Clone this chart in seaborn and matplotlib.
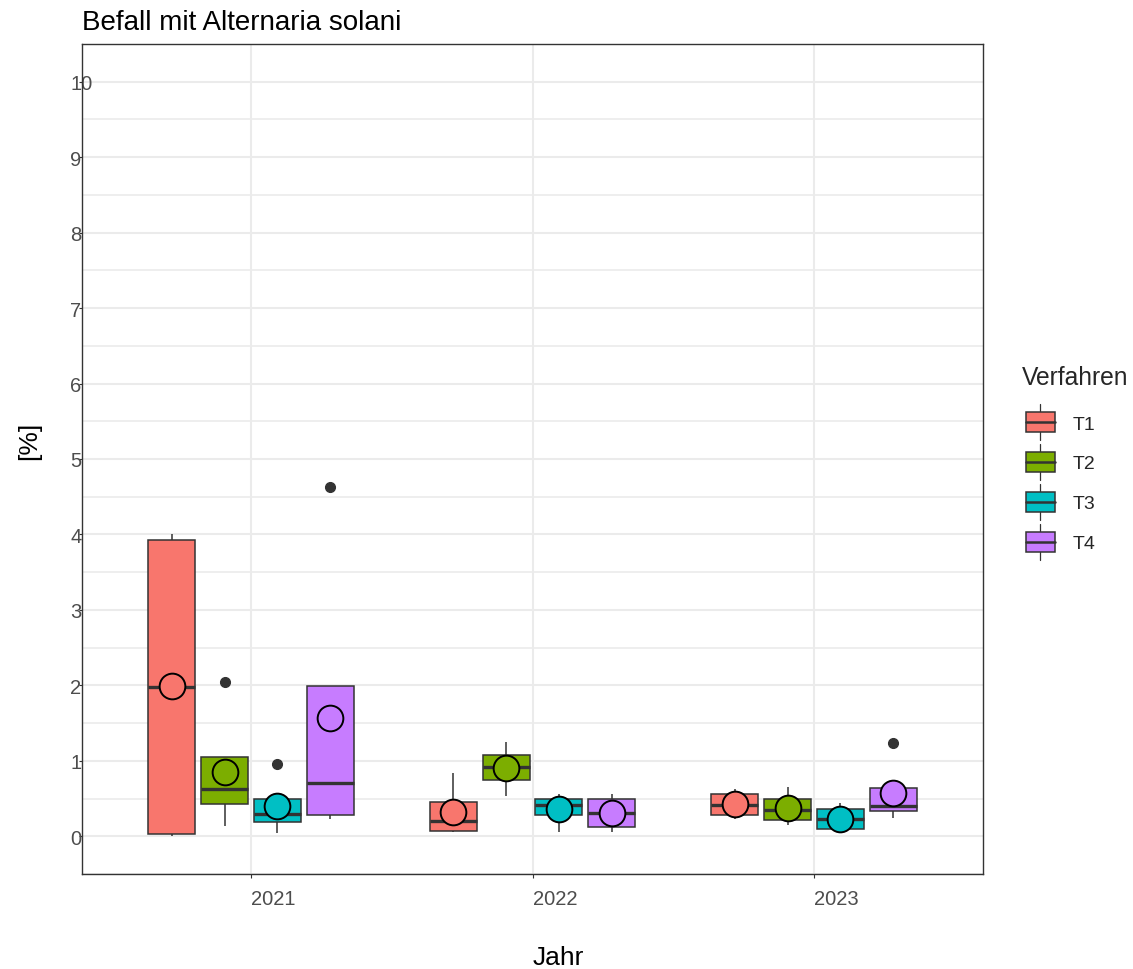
import numpy as np
import pandas as pd
import matplotlib
matplotlib.use("Agg")
import matplotlib.pyplot as plt
from matplotlib.legend_handler import HandlerBase
from matplotlib.patches import Rectangle, Patch
from matplotlib.lines import Line2D
import seaborn as sns

# Befall mit Alternaria solani [%], vier Wiederholungen je Jahr und Verfahren
years = ["2021", "2022", "2023"]
treatments = ["T1", "T2", "T3", "T4"]

t1_values = [[0.00, 0.04, 3.91, 4.00], [0.06, 0.08, 0.32, 0.84], [0.225, 0.30, 0.54, 0.63]]
t2_values = [[0.13, 0.52, 0.72, 2.04], [0.54, 0.81, 1.02, 1.255], [0.15, 0.24, 0.45, 0.65]]
t3_values = [[0.04, 0.24, 0.34, 0.96], [0.06, 0.35, 0.48, 0.56], [0.04, 0.12, 0.33, 0.44]]
t4_values = [[0.23, 0.30, 1.12, 4.63], [0.06, 0.14, 0.47, 0.56], [0.245, 0.36, 0.44, 1.235]]

y_ticks = list(range(0, 11))

colors = ["#F8766D", "#7CAE00", "#00BFC4", "#C77CFF"]
palette = dict(zip(treatments, colors))

rows = []
for trt, per_year in zip(treatments, [t1_values, t2_values, t3_values, t4_values]):
    for year, vals in zip(years, per_year):
        for v in vals:
            rows.append({"Jahr": year, "Verfahren": trt, "Befall": v})
df = pd.DataFrame(rows)

sns.set_theme(style="white")
plt.rcParams["font.family"] = ["Liberation Sans", "DejaVu Sans"]

W, H = 1133, 970
fig = plt.figure(figsize=(W / 100, H / 100), dpi=100)
ax = fig.add_axes([82 / W, 1 - 875 / H, (983 - 82) / W, (875 - 45) / H])

edge = "#333333"
sns.boxplot(
    data=df, x="Jahr", y="Befall", hue="Verfahren",
    order=years, hue_order=treatments, palette=palette,
    width=0.75, gap=0.11, saturation=1, linecolor=edge, linewidth=1.1,
    showcaps=False, fliersize=7,
    medianprops={"linewidth": 2.4, "color": edge},
    flierprops={"marker": "o", "markerfacecolor": edge, "markeredgecolor": edge},
    legend=False, ax=ax,
)

sns.pointplot(
    data=df, x="Jahr", y="Befall", hue="Verfahren",
    order=years, hue_order=treatments, palette=palette,
    estimator="mean", errorbar=None, dodge=0.5625,
    markers="o", linestyle="none", markersize=18.5,
    markeredgecolor="black", markeredgewidth=1.4,
    legend=False, ax=ax,
)
for ln in ax.lines[-len(treatments):]:
    ln.set_zorder(5)

# axes, grid, frame
ax.set_xlim(-0.6, 2.6)
ax.set_ylim(-0.5, 10.5)
ax.set_yticks(y_ticks)
ax.set_yticklabels([str(t) for t in y_ticks])
ax.set_yticks(np.arange(-0.5, 10.51, 0.5), minor=True)
ax.set_axisbelow(True)
ax.grid(which="major", color="#EBEBEB", linewidth=1.5)
ax.grid(which="minor", axis="y", color="#EBEBEB", linewidth=1.2)
for s in ax.spines.values():
    s.set_visible(True)
    s.set_color(edge)
    s.set_linewidth(1.0)

ax.tick_params(axis="y", which="major", length=2.2, width=0.8, color=edge,
               pad=6.4, labelsize=14.5, labelcolor="#4D4D4D", left=True)
ax.tick_params(axis="x", which="major", length=3.2, width=0.8, color=edge,
               pad=7.5, labelsize=14.5, labelcolor="#4D4D4D", bottom=True)
ax.tick_params(which="minor", length=0)
for lab in ax.get_yticklabels():
    lab.set_horizontalalignment("left")
for lab in ax.get_xticklabels():
    lab.set_horizontalalignment("left")

ax.set_xlabel("Jahr", fontsize=19, ha="left", labelpad=27, color="black")
ax.set_ylabel("[%]", fontsize=19, ha="left", labelpad=20.5, color="black")
ax.set_title("Befall mit Alternaria solani", fontsize=20, loc="left", pad=11, color="black")


class BoxKey(HandlerBase):
    def create_artists(self, legend, orig_handle, xdescent, ydescent,
                       width, height, fontsize, trans):
        fc = orig_handle.get_facecolor()
        cx = width / 2 - xdescent
        cy = height / 2 - ydescent
        bw, bh, wl = 21.0, 14.4, 5.8
        box = Rectangle((cx - bw / 2, cy - bh / 2), bw, bh, facecolor=fc,
                        edgecolor=edge, linewidth=1.1, transform=trans)
        med = Line2D([cx - bw / 2, cx + bw / 2], [cy, cy], color=edge,
                     linewidth=1.8, transform=trans)
        top = Line2D([cx, cx], [cy + bh / 2, cy + bh / 2 + wl], color=edge,
                     linewidth=0.9, transform=trans)
        bot = Line2D([cx, cx], [cy - bh / 2, cy - bh / 2 - wl], color=edge,
                     linewidth=0.9, transform=trans)
        return [top, bot, box, med]


handles = [Patch(facecolor=palette[t]) for t in treatments]
leg = ax.legend(
    handles=handles, labels=treatments, handler_map={Patch: BoxKey()},
    title="Verfahren", loc="center left",
    bbox_to_anchor=(1022 / W, 1 - 462 / H), bbox_transform=fig.transFigure,
    frameon=False, borderpad=0, borderaxespad=0, alignment="left",
    fontsize=14, title_fontsize=17.7, handlelength=1.9, handleheight=2.0,
    labelspacing=0.5, handletextpad=0.72,
)
# a bit more room between the legend title and the keys
leg._legend_box.sep = 13

fig.savefig("out.png", dpi=100)
